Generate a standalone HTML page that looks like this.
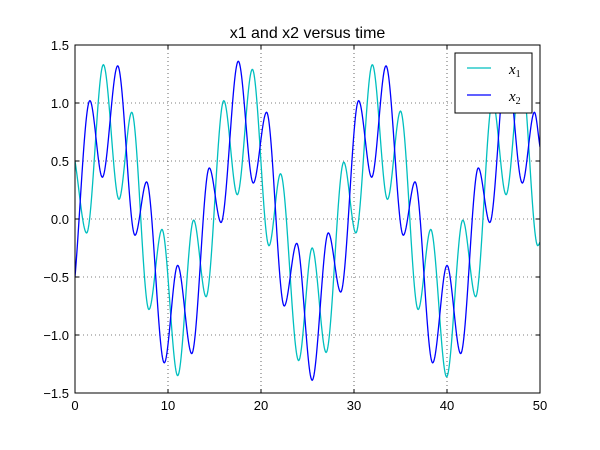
<!DOCTYPE html>
<html><head><meta charset="utf-8"><style>
html,body{margin:0;padding:0;background:#fff;}
svg{display:block;font-family:"Liberation Sans",sans-serif;}
</style></head><body>
<svg id="chart" width="600" height="450" viewBox="0 0 600 450"></svg>
<script>
// data (local extrema, time and value)
const x1Times=[0,1.25,3.05,4.73,6.1,7.95,9.35,11.04,12.76,14.09,16.0,17.45,19.07,20.86,22.1,24.05,25.5,27.0,28.9,30.2,31.97,33.6,35.0,36.9,38.25,39.96,41.7,43.08,44.9,46.35,47.97,49.76,50];
const x1Values=[0.5,-0.12,1.33,0.17,0.92,-0.78,-0.09,-1.35,-0.01,-0.67,1.02,0.21,1.29,-0.23,0.39,-1.22,-0.25,-1.15,0.49,-0.12,1.33,0.17,0.93,-0.78,-0.09,-1.36,-0.01,-0.67,1.02,0.21,1.29,-0.23,-0.2];
const x2Times=[0,1.6,2.94,4.59,6.45,7.7,9.6,11.04,12.55,14.44,15.7,17.56,19.17,20.6,22.5,23.84,25.5,27.24,28.57,30.5,31.9,33.44,35.3,36.56,38.46,40.0,41.47,43.37,44.6,46.4,48.1,49.4,50];
const x2Values=[-0.5,1.02,0.36,1.32,-0.14,0.32,-1.24,-0.40,-1.16,0.44,-0.03,1.36,0.31,0.92,-0.75,-0.21,-1.39,-0.12,-0.63,1.02,0.36,1.32,-0.14,0.32,-1.24,-0.40,-1.16,0.44,-0.03,1.36,0.31,0.92,0.62];
const xTicks=[0,10,20,30,40,50];
const yTicks=[-1.5,-1.0,-0.5,0.0,0.5,1.0,1.5];
const titleText="x1 and x2 versus time";

const NS="http://www.w3.org/2000/svg";
const svg=document.getElementById('chart');
const L=75,R=540,T=45,B=393;
const xMin=0,xMax=50,yMin=-1.5,yMax=1.5;
function sx(t){return L+(t-xMin)/(xMax-xMin)*(R-L);}
function sy(v){return B-(v-yMin)/(yMax-yMin)*(B-T);}
function mk(tag,attrs,parent){const e=document.createElementNS(NS,tag);for(const k in attrs)e.setAttribute(k,attrs[k]);(parent||svg).appendChild(e);return e;}

// monotone cubic interpolation
function interp(ts,vs){
  const n=ts.length,d=[],m=[];
  for(let i=0;i<n-1;i++)d.push((vs[i+1]-vs[i])/(ts[i+1]-ts[i]));
  m[0]=d[0];m[n-1]=d[n-2];
  for(let i=1;i<n-1;i++){m[i]=(d[i-1]*d[i]<=0)?0:(function(){const h0=ts[i]-ts[i-1],h1=ts[i+1]-ts[i];const w1=2*h1+h0,w2=h1+2*h0;return (w1+w2)/(w1/d[i-1]+w2/d[i]);})();}
  return function(t){
    let i=0;while(i<n-2&&t>ts[i+1])i++;
    const h=ts[i+1]-ts[i],s=(t-ts[i])/h;
    const h00=2*s*s*s-3*s*s+1,h10=s*s*s-2*s*s+s,h01=-2*s*s*s+3*s*s,h11=s*s*s-s*s;
    return h00*vs[i]+h10*h*m[i]+h01*vs[i+1]+h11*h*m[i+1];
  };
}
function pathFor(ts,vs){
  const f=interp(ts,vs);let p='';
  for(let k=0;k<=1000;k++){const t=xMin+(xMax-xMin)*k/1000;p+=(k?'L':'M')+sx(t).toFixed(2)+','+sy(f(t)).toFixed(2);}
  return p;
}

// grid
const grid=mk('g',{});


xTicks.forEach(t=>{if(t>xMin&&t<xMax)mk('line',{x1:sx(t),x2:sx(t),y1:T,y2:B,stroke:'#000','stroke-width':0.6,'stroke-dasharray':'1,3'},grid);});
yTicks.forEach(v=>{if(v>yMin&&v<yMax)mk('line',{x1:L,x2:R,y1:sy(v),y2:sy(v),stroke:'#000','stroke-width':0.6,'stroke-dasharray':'1,3'},grid);});

// clip
const defs=mk('defs',{});
const cp=mk('clipPath',{id:'clip'},defs);
mk('rect',{x:L,y:T,width:R-L,height:B-T},cp);

const s1=mk('path',{d:pathFor(x1Times,x1Values),fill:'none',stroke:'#00bfbf','stroke-width':1.3,'clip-path':'url(#clip)'});


const s2=mk('path',{d:pathFor(x2Times,x2Values),fill:'none',stroke:'#0000ff','stroke-width':1.3,'clip-path':'url(#clip)'});



// frame
const frame=mk('rect',{x:L,y:T,width:R-L,height:B-T,fill:'none',stroke:'#000','stroke-width':1});



// ticks & labels
xTicks.forEach(t=>{
  mk('line',{x1:sx(t),x2:sx(t),y1:B,y2:B-4,stroke:'#000'});
  mk('line',{x1:sx(t),x2:sx(t),y1:T,y2:T+4,stroke:'#000'});
  const tx=mk('text',{x:sx(t),y:B+17,'text-anchor':'middle','font-size':13});
  tx.textContent=String(t);
  
  
});
yTicks.forEach(v=>{
  mk('line',{x1:L,x2:L+4,y1:sy(v),y2:sy(v),stroke:'#000'});
  mk('line',{x1:R,x2:R-4,y1:sy(v),y2:sy(v),stroke:'#000'});
  const tx=mk('text',{x:L-6,y:sy(v)+5,'text-anchor':'end','font-size':13});
  tx.textContent=(v<0?'\u2212':'')+Math.abs(v).toFixed(1);
  
  
});

// title
const title=mk('text',{x:(L+R)/2,y:38,'text-anchor':'middle','font-size':16});
title.textContent=titleText;



// legend
const lg=mk('g',{});


mk('rect',{x:455,y:53,width:77,height:60,fill:'#fff',stroke:'#000','stroke-width':1},lg);
const e1=mk('g',{},lg);


mk('line',{x1:467,x2:491,y1:68,y2:68,stroke:'#00bfbf','stroke-width':1.3},e1);
const t1=mk('text',{x:509,y:74,'font-size':15,'font-style':'italic','font-family':'Liberation Serif, serif'},e1);
t1.innerHTML='x<tspan font-size="10" dy="3" font-style="normal">1</tspan>';
const e2=mk('g',{},lg);


mk('line',{x1:467,x2:491,y1:95,y2:95,stroke:'#0000ff','stroke-width':1.3},e2);
const t2=mk('text',{x:509,y:101,'font-size':15,'font-style':'italic','font-family':'Liberation Serif, serif'},e2);
t2.innerHTML='x<tspan font-size="10" dy="3" font-style="normal">2</tspan>';
</script>
</body></html>
